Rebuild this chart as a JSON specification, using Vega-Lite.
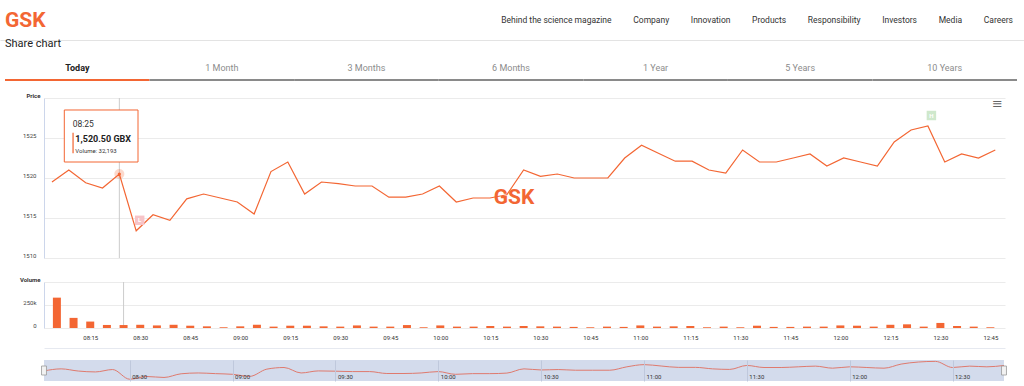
{
  "$schema": "https://vega.github.io/schema/vega-lite/v6.json",
  "padding": 0,
  "background": "white",
  "spacing": 0,
  "bounds": "flush",
  "config": {
    "view": {"stroke": null},
    "font": "Roboto",
    "axis": {"labelFont": "Roboto", "titleFont": "Roboto"},
    "title": {"font": "Roboto"},
    "text": {"font": "Roboto"}
  },
  "datasets": {
    "prices": [
      {"t": "2024-01-15T08:05:00", "price": 1519.5, "volume": 330000},
      {"t": "2024-01-15T08:10:00", "price": 1521.0, "volume": 110000},
      {"t": "2024-01-15T08:15:00", "price": 1519.4, "volume": 70000},
      {"t": "2024-01-15T08:20:00", "price": 1518.75, "volume": 33000},
      {"t": "2024-01-15T08:25:00", "price": 1520.5, "volume": 32193},
      {"t": "2024-01-15T08:30:00", "price": 1513.4, "volume": 35000},
      {"t": "2024-01-15T08:35:00", "price": 1515.4, "volume": 28000},
      {"t": "2024-01-15T08:40:00", "price": 1514.7, "volume": 35000},
      {"t": "2024-01-15T08:45:00", "price": 1517.4, "volume": 25000},
      {"t": "2024-01-15T08:50:00", "price": 1518.0, "volume": 18000},
      {"t": "2024-01-15T08:55:00", "price": 1517.5, "volume": 8000},
      {"t": "2024-01-15T09:00:00", "price": 1517.0, "volume": 18000},
      {"t": "2024-01-15T09:05:00", "price": 1515.5, "volume": 35000},
      {"t": "2024-01-15T09:10:00", "price": 1520.8, "volume": 15000},
      {"t": "2024-01-15T09:15:00", "price": 1522.0, "volume": 25000},
      {"t": "2024-01-15T09:20:00", "price": 1518.0, "volume": 25000},
      {"t": "2024-01-15T09:25:00", "price": 1519.5, "volume": 18000},
      {"t": "2024-01-15T09:30:00", "price": 1519.3, "volume": 15000},
      {"t": "2024-01-15T09:35:00", "price": 1519.0, "volume": 28000},
      {"t": "2024-01-15T09:40:00", "price": 1519.0, "volume": 15000},
      {"t": "2024-01-15T09:45:00", "price": 1517.6, "volume": 15000},
      {"t": "2024-01-15T09:50:00", "price": 1517.6, "volume": 32000},
      {"t": "2024-01-15T09:55:00", "price": 1518.0, "volume": 8000},
      {"t": "2024-01-15T10:00:00", "price": 1519.0, "volume": 28000},
      {"t": "2024-01-15T10:05:00", "price": 1517.0, "volume": 15000},
      {"t": "2024-01-15T10:10:00", "price": 1517.5, "volume": 15000},
      {"t": "2024-01-15T10:15:00", "price": 1517.5, "volume": 22000},
      {"t": "2024-01-15T10:20:00", "price": 1517.9, "volume": 15000},
      {"t": "2024-01-15T10:25:00", "price": 1521.0, "volume": 22000},
      {"t": "2024-01-15T10:30:00", "price": 1520.2, "volume": 18000},
      {"t": "2024-01-15T10:35:00", "price": 1520.5, "volume": 15000},
      {"t": "2024-01-15T10:40:00", "price": 1520.0, "volume": 12000},
      {"t": "2024-01-15T10:45:00", "price": 1520.0, "volume": 8000},
      {"t": "2024-01-15T10:50:00", "price": 1520.0, "volume": 15000},
      {"t": "2024-01-15T10:55:00", "price": 1522.5, "volume": 12000},
      {"t": "2024-01-15T11:00:00", "price": 1524.1, "volume": 28000},
      {"t": "2024-01-15T11:05:00", "price": 1523.1, "volume": 15000},
      {"t": "2024-01-15T11:10:00", "price": 1522.1, "volume": 18000},
      {"t": "2024-01-15T11:15:00", "price": 1522.1, "volume": 22000},
      {"t": "2024-01-15T11:20:00", "price": 1521.0, "volume": 8000},
      {"t": "2024-01-15T11:25:00", "price": 1520.6, "volume": 15000},
      {"t": "2024-01-15T11:30:00", "price": 1523.5, "volume": 8000},
      {"t": "2024-01-15T11:35:00", "price": 1522.0, "volume": 25000},
      {"t": "2024-01-15T11:40:00", "price": 1522.0, "volume": 12000},
      {"t": "2024-01-15T11:45:00", "price": 1522.5, "volume": 12000},
      {"t": "2024-01-15T11:50:00", "price": 1523.0, "volume": 15000},
      {"t": "2024-01-15T11:55:00", "price": 1521.5, "volume": 15000},
      {"t": "2024-01-15T12:00:00", "price": 1522.5, "volume": 28000},
      {"t": "2024-01-15T12:05:00", "price": 1522.0, "volume": 25000},
      {"t": "2024-01-15T12:10:00", "price": 1521.5, "volume": 15000},
      {"t": "2024-01-15T12:15:00", "price": 1524.5, "volume": 35000},
      {"t": "2024-01-15T12:20:00", "price": 1526.0, "volume": 40000},
      {"t": "2024-01-15T12:25:00", "price": 1526.5, "volume": 15000},
      {"t": "2024-01-15T12:30:00", "price": 1522.0, "volume": 55000},
      {"t": "2024-01-15T12:35:00", "price": 1523.0, "volume": 22000},
      {"t": "2024-01-15T12:40:00", "price": 1522.5, "volume": 15000},
      {"t": "2024-01-15T12:45:00", "price": 1523.5, "volume": 8000}
    ],
    "hover": [
      {"t": "2024-01-15T08:25:00", "price": 1520.5, "volume": 32193, "priceLabel": "1,520.50 GBX", "volumeLabel": "Volume: 32,193"}
    ],
    "flags": [
      {"t": "2024-01-15T08:30:00", "price": 1513.4, "flag": "L"},
      {"t": "2024-01-15T12:25:00", "price": 1526.5, "flag": "H"}
    ],
    "handles": [
      {"t": "2024-01-15T08:05:00"},
      {"t": "2024-01-15T12:45:00"}
    ],
    "navRange": [
      {"start": "2024-01-15T08:05:00", "end": "2024-01-15T12:45:00"}
    ]
  },
  "vconcat": [
    {
      "width": 1024,
      "height": 40,
      "data": {"values": [
        {"item": "logo", "label": "GSK"},
        {"item": "nav", "label": "Behind the science magazine\u2003\u2003\u2002Company\u2003\u2003\u2002Innovation\u2003\u2003\u2002Products\u2003\u2003\u2002Responsibility\u2003\u2003\u2002Investors\u2003\u2003\u2002Media\u2003\u2003\u2002Careers"}
      ]},
      "layer": [
        {"transform": [{"filter": "datum.item === 'logo'"}],
         "mark": {"type": "text", "align": "left", "baseline": "alphabetic", "dx": 5, "dy": 7, "fontSize": 21, "fontWeight": "bold", "letterSpacing": 5, "color": "#f36633"},
         "encoding": {
           "x": {"field": "item", "type": "nominal", "scale": {"type": "point", "domain": ["logo", "nav"], "padding": 0},
             "axis": {"orient": "bottom", "title": null, "labels": false, "ticks": false, "domain": true, "domainColor": "#e3e3e3", "domainWidth": 1, "grid": false}},
           "text": {"field": "label"}}},
        {"transform": [{"filter": "datum.item === 'nav'"}],
         "mark": {"type": "text", "align": "right", "baseline": "alphabetic", "dx": -11, "dy": 3, "fontSize": 8.5, "color": "#333333"},
         "encoding": {
           "x": {"field": "item", "type": "nominal", "scale": {"type": "point", "domain": ["logo", "nav"], "padding": 0}},
           "text": {"field": "label"}}}
      ]
    },
    {"width": 1024, "height": 39, "data": {"values": []}, "mark": "point"},
    {
      "width": 1024,
      "height": 2,
      "title": {"text": "Share chart", "anchor": "start", "frame": "group", "dx": 5, "fontSize": 11, "fontWeight": "normal", "color": "#222222", "baseline": "alphabetic", "offset": 5},
      "data": {"values": [
        {"tab": "Today", "active": "yes"},
        {"tab": "1 Month", "active": "no"},
        {"tab": "3 Months", "active": "no"},
        {"tab": "6 Months", "active": "no"},
        {"tab": "1 Year", "active": "no"},
        {"tab": "5 Years", "active": "no"},
        {"tab": "10 Years", "active": "no"}
      ]},
      "mark": {"type": "bar"},
      "encoding": {
        "x": {"field": "tab", "type": "nominal", "sort": null,
          "scale": {"paddingInner": 0, "paddingOuter": 0.0415, "align": 0.417},
          "axis": {"orient": "top", "title": null, "ticks": false, "domain": false, "labelAngle": 0, "labelFontSize": 9, "labelPadding": 7,
            "labelColor": {"condition": {"test": "datum.value === 'Today'", "value": "#222222"}, "value": "#8c8c8c"},
            "labelFontWeight": {"condition": {"test": "datum.value === 'Today'", "value": "bold"}, "value": "normal"}}},
        "color": {"field": "active", "type": "nominal", "scale": {"domain": ["yes", "no"], "range": ["#f36633", "#8a8a8a"]}, "legend": null}
      }
    },
    {"width": 1024, "height": 17, "data": {"values": []}, "mark": "point"},
    {
      "width": 1024,
      "height": 160,
      "title": {"text": "\u2261", "anchor": "end", "frame": "group", "font": "DejaVu Sans", "fontSize": 13, "fontWeight": "normal", "color": "#666666", "baseline": "top", "offset": -18.5, "dx": -21},
      "layer": [
        {"data": {"name": "hover"},
         "mark": {"type": "rule", "color": "#cccccc", "strokeWidth": 1},
         "encoding": {"x": {"field": "t", "type": "temporal",
             "scale": {"domain": [{"year": 2024, "month": 1, "date": 15, "hours": 8, "minutes": 2, "seconds": 38}, {"year": 2024, "month": 1, "date": 15, "hours": 12, "minutes": 47, "seconds": 53}], "range": [44, 1005], "nice": false},
             "axis": null}}},
        {"data": {"name": "prices"},
         "mark": {"type": "line", "color": "#f36633", "strokeWidth": 1.2},
         "encoding": {
           "x": {"field": "t", "type": "temporal"},
           "y": {"field": "price", "type": "quantitative",
             "scale": {"domain": [1510, 1530], "zero": false, "nice": false},
             "axis": {"values": [1510, 1515, 1520, 1525, 1530], "tickCount": 10, "format": "d", "labelExpr": "datum.value === 1530 ? '' : datum.label", "offset": -44, "labelOverlap": false,
               "title": "Price", "titleAngle": 0, "titleAlign": "right", "titleBaseline": "middle", "titleX": -4, "titleY": -3, "titleFontSize": 6, "titleFontWeight": "bold", "titleColor": "#333333",
               "labelFontSize": 6, "labelColor": "#444444", "labelPadding": 8, "labelOffset": -3, "ticks": false,
               "domain": true, "domainColor": "#ccd6eb", "grid": true, "gridColor": "#ebebeb"}}}},
        {"data": {"name": "flags"},
         "transform": [{"filter": "datum.flag === 'L'"}],
         "mark": {"type": "point", "shape": "square", "filled": true, "size": 90, "color": "#f7c4c8", "opacity": 1, "xOffset": 3.5, "yOffset": -10.5},
         "encoding": {"x": {"field": "t", "type": "temporal"}, "y": {"field": "price", "type": "quantitative"}}},
        {"data": {"name": "flags"},
         "transform": [{"filter": "datum.flag === 'H'"}],
         "mark": {"type": "point", "shape": "square", "filled": true, "size": 90, "color": "#cfe8cc", "opacity": 1, "xOffset": 3.5, "yOffset": -10.5},
         "encoding": {"x": {"field": "t", "type": "temporal"}, "y": {"field": "price", "type": "quantitative"}}},
        {"data": {"name": "flags"},
         "mark": {"type": "text", "color": "white", "fontSize": 6, "fontWeight": "bold", "dx": 3.5, "dy": -10.5, "baseline": "middle"},
         "encoding": {"x": {"field": "t", "type": "temporal"}, "y": {"field": "price", "type": "quantitative"}, "text": {"field": "flag"}}},
        {"data": {"name": "hover"},
         "mark": {"type": "point", "filled": true, "size": 100, "color": "#f36633", "opacity": 0.25},
         "encoding": {"x": {"field": "t", "type": "temporal"}, "y": {"field": "price", "type": "quantitative"}}},
        {"data": {"name": "hover"},
         "mark": {"type": "point", "filled": true, "size": 10, "color": "#f36633", "opacity": 1},
         "encoding": {"x": {"field": "t", "type": "temporal"}, "y": {"field": "price", "type": "quantitative"}}},
        {"data": {"name": "hover"},
         "mark": {"type": "point", "shape": "M-1,-0.7056L1,-0.7056L1,0.7056L-1,0.7056Z", "size": 5432, "filled": true, "fill": "white", "stroke": "#f36633", "strokeWidth": 1, "opacity": 1, "xOffset": -18.2, "yOffset": -38},
         "encoding": {"x": {"field": "t", "type": "temporal"}, "y": {"field": "price", "type": "quantitative"}}},
        {"data": {"name": "hover"},
         "mark": {"type": "point", "shape": "M-0.06,-1L0.06,-1L0.06,1L-0.06,1Z", "size": 424, "filled": true, "color": "#f36633", "opacity": 1, "xOffset": -46.3, "yOffset": -31},
         "encoding": {"x": {"field": "t", "type": "temporal"}, "y": {"field": "price", "type": "quantitative"}}},
        {"data": {"name": "hover"},
         "mark": {"type": "text", "align": "left", "baseline": "middle", "dx": -46.7, "dy": -50.3, "fontSize": 8.5, "color": "#333333"},
         "encoding": {"x": {"field": "t", "type": "temporal"}, "y": {"field": "price", "type": "quantitative"}, "text": {"field": "t", "type": "temporal", "format": "%H:%M"}}},
        {"data": {"name": "hover"},
         "mark": {"type": "text", "align": "left", "baseline": "middle", "dx": -44, "dy": -35.3, "fontSize": 9, "fontWeight": "bold", "color": "#222222"},
         "encoding": {"x": {"field": "t", "type": "temporal"}, "y": {"field": "price", "type": "quantitative"}, "text": {"field": "priceLabel"}}},
        {"data": {"name": "hover"},
         "mark": {"type": "text", "align": "left", "baseline": "middle", "dx": -44, "dy": -23.3, "fontSize": 6, "color": "#333333"},
         "encoding": {"x": {"field": "t", "type": "temporal"}, "y": {"field": "price", "type": "quantitative"}, "text": {"field": "volumeLabel"}}},
        {"data": {"values": [{"wm": "GSK"}]},
         "mark": {"type": "text", "baseline": "middle", "dx": 2, "dy": 20, "fontSize": 21, "fontWeight": "bold", "letterSpacing": 5, "color": "#f36633"},
         "encoding": {"text": {"field": "wm"}}}
      ]
    },
    {"width": 1024, "height": 24, "data": {"values": []}, "mark": "point"},
    {
      "width": 1024,
      "height": 46,
      "layer": [
        {"data": {"name": "hover"},
         "mark": {"type": "rule", "color": "#cccccc", "strokeWidth": 1},
         "encoding": {"x": {"field": "t", "type": "temporal",
             "scale": {"domain": [{"year": 2024, "month": 1, "date": 15, "hours": 8, "minutes": 2, "seconds": 38}, {"year": 2024, "month": 1, "date": 15, "hours": 12, "minutes": 47, "seconds": 53}], "range": [44, 1005], "nice": false},
             "axis": {"orient": "bottom", "title": null, "tickCount": 20, "format": "%H:%M", "offset": 20, "ticks": false, "labelPadding": -11, "labelBaseline": "middle", "labelFontSize": 6, "labelColor": "#333333", "labelFlush": false, "domain": true, "domainColor": "#e6e9f0", "grid": false}}}},
        {"data": {"name": "prices"},
         "mark": {"type": "bar", "color": "#f36633", "width": 8},
         "encoding": {
           "x": {"field": "t", "type": "temporal"},
           "y": {"field": "volume", "type": "quantitative",
             "scale": {"domain": [0, 500000], "nice": false},
             "axis": {"values": [0, 250000, 500000], "tickCount": 10, "labelExpr": "datum.value === 0 ? '0' : datum.value === 250000 ? '250k' : ''", "offset": -44, "labelOverlap": false,
               "title": "Volume", "titleAngle": 0, "titleAlign": "right", "titleBaseline": "middle", "titleX": -4, "titleY": -3, "titleFontSize": 6, "titleFontWeight": "bold", "titleColor": "#333333",
               "labelFontSize": 6, "labelColor": "#444444", "labelPadding": 8, "labelOffset": -3, "ticks": false,
               "domain": true, "domainColor": "#ccd6eb", "grid": true, "gridColor": "#ebebeb"}}
         }}
      ]
    },
    {"width": 1024, "height": 32, "data": {"values": []}, "mark": "point"},
    {
      "width": 1024,
      "height": 21,
      "layer": [
        {"data": {"name": "navRange"},
         "mark": {"type": "rect", "color": "#d3dbec", "opacity": 1},
         "encoding": {
           "x": {"field": "start", "type": "temporal",
             "scale": {"domain": [{"year": 2024, "month": 1, "date": 15, "hours": 8, "minutes": 5}, {"year": 2024, "month": 1, "date": 15, "hours": 12, "minutes": 45}], "range": [44, 1004], "nice": false},
             "axis": {"orient": "bottom", "title": null, "tickCount": 10, "format": "%H:%M", "ticks": false, "domain": false, "grid": true, "gridColor": "#bfc8dc", "zindex": 1,
               "labelAlign": "left", "labelBaseline": "middle", "labelPadding": -4.5, "labelOffset": 2, "labelFontSize": 6, "labelColor": "#333333", "labelFlush": false}},
           "x2": {"field": "end"}}},
        {"data": {"name": "prices"},
         "mark": {"type": "line", "color": "#df7a6e", "strokeWidth": 1, "interpolate": "monotone"},
         "encoding": {
           "x": {"field": "t", "type": "temporal"},
           "y": {"field": "price", "type": "quantitative", "scale": {"domain": [1512.1, 1527.5], "zero": false, "nice": false}, "axis": null}}},
        {"data": {"name": "handles"},
         "mark": {"type": "point", "shape": "M-0.55,-1L0.55,-1L0.55,1L-0.55,1Z", "size": 81, "filled": true, "fill": "#f2f2f2", "stroke": "#999999", "strokeWidth": 0.8, "opacity": 1},
         "encoding": {"x": {"field": "t", "type": "temporal"}}}
      ]
    }
  ]
}
